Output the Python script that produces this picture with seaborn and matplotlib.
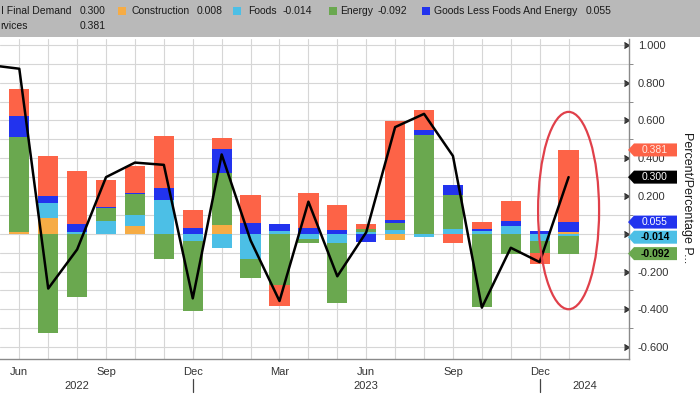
import numpy as np
import pandas as pd
import seaborn as sns
import matplotlib.pyplot as plt
from matplotlib.patches import Ellipse, Polygon, Rectangle
from matplotlib.markers import CARETRIGHT
from matplotlib.ticker import MultipleLocator, FuncFormatter


# Data: PPI final demand and contributions (May 2022 - Jan 2024)
months = pd.date_range('2022-05-01', '2024-01-01', freq='MS')
final_demand = [0.893, 0.874, -0.290, -0.083, 0.300, 0.377, 0.365, -0.342, 0.420, -0.035, -0.356,
                0.170, -0.225, 0.008, 0.565, 0.635, 0.412, -0.391, -0.074, -0.150, 0.300]

# components start at Jun 2022
construction = [0.010, 0.084, 0.000, 0.000, 0.042, 0.000, 0.000, 0.049, 0.000, 0.000,
                0.000, 0.000, 0.000, -0.032, 0.000, 0.000, 0.000, 0.000, 0.000, 0.008]
foods = [0.000, 0.079, 0.010, 0.070, 0.058, 0.180, -0.040, -0.076, -0.135, 0.015,
         -0.030, -0.050, 0.010, 0.018, -0.018, 0.026, 0.013, 0.040, -0.040, -0.014]
energy = [0.500, -0.523, -0.337, 0.066, 0.110, -0.132, -0.367, 0.275, -0.100, -0.272,
          -0.018, -0.315, 0.018, 0.040, 0.521, 0.181, -0.386, -0.109, -0.060, -0.092]
goods_ex = [0.115, 0.035, 0.040, 0.005, 0.007, 0.060, 0.030, 0.125, 0.058, 0.038,
            0.030, 0.020, -0.044, 0.014, 0.026, 0.053, 0.013, 0.028, 0.014, 0.055]
services = [0.143, 0.214, 0.284, 0.144, 0.142, 0.277, 0.098, 0.058, 0.150, -0.110,
            0.187, 0.130, 0.024, 0.523, 0.111, -0.050, 0.035, 0.107, -0.061, 0.381]

series_names = ['Construction', 'Foods', 'Energy', 'Goods Less Foods And Energy', 'Services']
series_vals = [construction, foods, energy, goods_ex, services]
colors = ['#f6ac45', '#4cbfe6', '#6aa84f', '#2233ee', '#fd6347']

df = pd.DataFrame({'x': np.arange(len(months)), 'final': final_demand})


sns.set_style('white')
plt.rcParams['font.family'] = ['Liberation Sans', 'DejaVu Sans']

W, H = 700, 394
fig = plt.figure(figsize=(7, 3.94), dpi=100)
ax = fig.add_axes([0, 35 / H, 629.3 / W, 320.3 / H])

# stacked bars, positive and negative stacks separately
bx = df['x'].values[1:]
pos_base = np.zeros(len(bx))
neg_base = np.zeros(len(bx))
for vals, col in zip(series_vals, colors):
    v = np.array(vals)
    bottom = np.where(v >= 0, pos_base, neg_base)
    ax.bar(bx, v, bottom=bottom, width=0.7, color=col, linewidth=0, zorder=2)
    pos_base = pos_base + np.clip(v, 0, None)
    neg_base = neg_base + np.clip(v, None, 0)

sns.lineplot(data=df, x='x', y='final', color='black', linewidth=1.8, ax=ax, zorder=3)

# axes styling
ax.yaxis.tick_right()
ax.yaxis.set_major_locator(MultipleLocator(0.2))
ax.yaxis.set_minor_locator(MultipleLocator(0.1))
# 0.000 label sits under the value tags, so leave it blank
ax.yaxis.set_major_formatter(FuncFormatter(lambda v, p: '' if abs(v) < 1e-9 else f'{v:.3f}'))
ax.set_xticks(df['x'])
ax.set_xticklabels([m.strftime('%b') if m.month in (3, 6, 9, 12) else '' for m in months])
ax.set_xlim(0.332, 22.1)
ax.set_ylim(-0.663, 1.033)
ax.grid(True, which='both', color='#d6d6d6', linewidth=0.8, zorder=0)
ax.set_axisbelow(True)
ax.set_xlabel('')
ax.set_ylabel('')
for s in ['top', 'left']:
    ax.spines[s].set_visible(False)
for s in ['right', 'bottom']:
    ax.spines[s].set_color('#8a8a8a')
    ax.spines[s].set_linewidth(1)
ax.tick_params(axis='y', which='major', length=0, pad=6, labelsize=8, labelcolor='#333333')
ax.tick_params(axis='y', which='minor', right=True, length=3, color='#777777')
ax.tick_params(axis='x', which='major', length=3, color='#666666', pad=3, labelsize=8, labelcolor='#333333')
for t in ax.yaxis.get_major_ticks():
    t.tick2line.set_marker(CARETRIGHT)
    t.tick2line.set_markersize(5)
    t.tick2line.set_color('#444444')

# year labels and separators
trans = ax.get_xaxis_transform()
for xpos, yr in [(3.0, '2022'), (13.0, '2023'), (20.55, '2024')]:
    ax.text(xpos, -0.083, yr, transform=trans, ha='center', va='center', fontsize=8, color='#333333')
for xpos in [7, 19]:
    ax.plot([xpos, xpos], [-0.062, -0.102], transform=trans, color='#444444', lw=0.9, clip_on=False)
ax.set_xlim(0.332, 22.1)

# red ellipse around the latest bar
ax.add_patch(Ellipse((20, 0.123), 2.11, 1.045, fill=False, edgecolor='#e0404a', lw=1.6,
                     zorder=4, clip_on=False))

# top legend band
fig.patches.append(Rectangle((0, 1 - 37 / H), 1, 37 / H, transform=fig.transFigure,
                             facecolor='#b9b9b9', edgecolor='none', zorder=0))
ty1, ty2 = 1 - 11 / H, 1 - 26 / H
fs = 7.5
fig.text(1 / W, ty1, 'I Final Demand', fontsize=fs, va='center', color='#1a1a1a')
fig.text(80 / W, ty1, '0.300', fontsize=fs, va='center', color='#1a1a1a')
fig.text(0 / W, ty2, 'rvices', fontsize=fs, va='center', color='#1a1a1a')
fig.text(80 / W, ty2, '0.381', fontsize=fs, va='center', color='#1a1a1a')
legend_items = [(118, 'Construction', 131.7, '0.008', 197),
                (233, 'Foods', 248, '-0.014', 283),
                (329, 'Energy', 340, '-0.092', 378),
                (422, 'Goods Less Foods And Energy', 434, '0.055', 586)]
for (sq, name, nx, val, vx), col in zip(legend_items, colors[:4]):
    fig.patches.append(Rectangle((sq / W, 1 - 15 / H), 8 / W, 8 / H, transform=fig.transFigure,
                                 facecolor=col, edgecolor='none'))
    fig.text(nx / W, ty1, name, fontsize=fs, va='center', color='#1a1a1a')
    fig.text(vx / W, ty1, val, fontsize=fs, va='center', color='#1a1a1a')

# value tags on the right axis
tag_vals = [services[-1], final_demand[-1], goods_ex[-1], foods[-1], energy[-1]]
tag_pos = [0.444, 0.300, 0.062, -0.018, -0.105]
tag_face = ['#fd6347', '#000000', '#2233ee', '#4cbfe6', '#6aa84f']
tag_text = ['#ffe8e0', 'white', 'white', 'black', 'black']
to_fig = fig.transFigure.inverted()
for v, p, fc, tc in zip(tag_vals, tag_pos, tag_face, tag_text):
    yd = ax.transData.transform((0, p))[1]
    pts = [(628, yd), (634, yd + 6.5), (677, yd + 6.5), (677, yd - 6.5), (634, yd - 6.5)]
    fig.patches.append(Polygon(to_fig.transform(pts), closed=True, transform=fig.transFigure,
                               facecolor=fc, edgecolor='none', zorder=5))
    fig.text(655 / W, yd / H, f'{v:.3f}', fontsize=7.5, ha='center', va='center', color=tc,
             fontweight='bold' if tc == 'black' else 'normal', zorder=6)

fig.text(687 / W, 1 - 198 / H, 'Percent/Percentage P...', rotation=270, fontsize=9,
         ha='center', va='center', color='#1a1a1a')

plt.savefig('out.png', dpi=100)
